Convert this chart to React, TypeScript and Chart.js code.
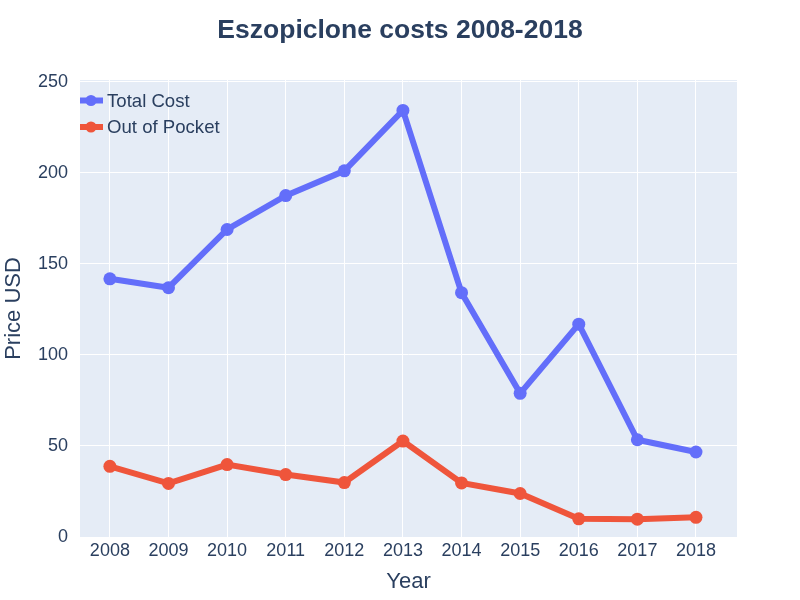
import React, { useEffect, useRef } from "react";
import { Chart, registerables } from "chart.js";

Chart.register(...registerables);

const years = ["2008", "2009", "2010", "2011", "2012", "2013", "2014", "2015", "2016", "2017", "2018"];
const totalCost = [141.8, 136.9, 168.9, 187.5, 201.1, 234.3, 134.2, 78.9, 116.9, 53.4, 46.7];
const outOfPocket = [38.8, 29.4, 39.8, 34.3, 29.9, 52.7, 29.7, 23.9, 10.0, 9.8, 10.8];
const yTicks = [0, 50, 100, 150, 200, 250];
const chartTitle = "Eszopiclone costs 2008-2018";

const TEXT = "#2a3f5f";
const FONT = "'Liberation Sans', Arial, sans-serif";

const plotBg = {
  id: "plotBg",
  beforeDraw(chart: any) {
    const { ctx, chartArea } = chart;
    ctx.save();
    ctx.fillStyle = "#E5ECF6";
    ctx.fillRect(chartArea.left, chartArea.top, chartArea.right - chartArea.left, chartArea.bottom - chartArea.top);
    ctx.restore();
  },
};

const pageTitle = {
  id: "pageTitle",
  afterDraw(chart: any) {
    const { ctx, width } = chart;
    ctx.save();
    ctx.fillStyle = TEXT;
    ctx.font = `bold 26.5px ${FONT}`;
    ctx.textAlign = "center";
    ctx.textBaseline = "middle";
    ctx.fillText(chartTitle, width / 2, 31);
    ctx.restore();
  },
};

const insideLegend = {
  id: "insideLegend",
  afterDraw(chart: any) {
    const { ctx, chartArea } = chart;
    ctx.save();
    chart.data.datasets.forEach((ds: any, i: number) => {
      const y = chartArea.top + 20.5 + i * 26.5;
      const x0 = chartArea.left;
      ctx.strokeStyle = ds.borderColor;
      ctx.lineWidth = 6;
      ctx.lineCap = "butt";
      ctx.beginPath();
      ctx.moveTo(x0, y);
      ctx.lineTo(x0 + 23, y);
      ctx.stroke();
      ctx.fillStyle = ds.borderColor;
      ctx.beginPath();
      ctx.arc(x0 + 11, y, 5.5, 0, Math.PI * 2);
      ctx.fill();
      ctx.fillStyle = TEXT;
      ctx.font = `18.6px ${FONT}`;
      ctx.textAlign = "left";
      ctx.textBaseline = "middle";
      ctx.fillText(ds.label, x0 + 27, y + 1);
    });
    ctx.restore();
  },
};

export default function App() {
  const ref = useRef<HTMLCanvasElement>(null);
  useEffect(() => {
    if (!ref.current) return;
    const chart = new Chart(ref.current, {
      type: "line",
      data: {
        datasets: [
          {
            label: "Total Cost",
            data: totalCost.map((v, i) => ({ x: i, y: v })),
            borderColor: "#636efa",
            backgroundColor: "#636efa",
            borderWidth: 6,
            pointRadius: 6.5,
            pointHoverRadius: 6.5,
            pointBorderWidth: 0,
            tension: 0,
          },
          {
            label: "Out of Pocket",
            data: outOfPocket.map((v, i) => ({ x: i, y: v })),
            borderColor: "#EF553B",
            backgroundColor: "#EF553B",
            borderWidth: 6,
            pointRadius: 6.5,
            pointHoverRadius: 6.5,
            pointBorderWidth: 0,
            tension: 0,
          },
        ],
      },
      options: {
        animation: false,
        responsive: false,
        maintainAspectRatio: false,
        events: [],
        layout: { padding: { left: 0, right: 63, top: 80, bottom: 0 } },
        plugins: {
          legend: { display: false },
          tooltip: { enabled: false },
          title: { display: false },
        },
        scales: {
          x: {
            type: "linear",
            min: -0.51,
            max: 10.7,
            afterFit(scale: any) {
              scale.height = 63;
            },
            afterBuildTicks(scale: any) {
              scale.ticks = years.map((_, i) => ({ value: i }));
            },
            ticks: {
              color: TEXT,
              font: { family: FONT, size: 18 },
              padding: 3,
              maxRotation: 0,
              autoSkip: false,
              callback: (v: any) => years[v] ?? "",
            },
            grid: { color: "#ffffff", lineWidth: 1, drawTicks: false },
            border: { display: false },
            title: {
              display: true,
              text: "Year",
              color: TEXT,
              font: { family: FONT, size: 22 },
              padding: { top: 0, bottom: 5 },
            },
          },
          y: {
            type: "linear",
            min: 0,
            max: 251,
            afterFit(scale: any) {
              scale.width = 80;
            },
            afterBuildTicks(scale: any) {
              scale.ticks = yTicks.map((v) => ({ value: v }));
            },
            ticks: {
              color: TEXT,
              font: { family: FONT, size: 18 },
              padding: 12,
            },
            grid: { color: "#ffffff", lineWidth: 1, drawTicks: false },
            border: { display: false },
            title: {
              display: true,
              text: "Price USD",
              color: TEXT,
              font: { family: FONT, size: 22 },
              padding: { top: 1, bottom: 0 },
            },
          },
        },
      },
      plugins: [plotBg, insideLegend, pageTitle],
    });
    return () => chart.destroy();
  }, []);
  return (
    <div style={{ position: "fixed", left: 0, top: 0, width: 800, height: 600, background: "#fff" }}>
      <canvas ref={ref} width={800} height={600} style={{ width: 800, height: 600, display: "block" }} />
    </div>
  );
}
